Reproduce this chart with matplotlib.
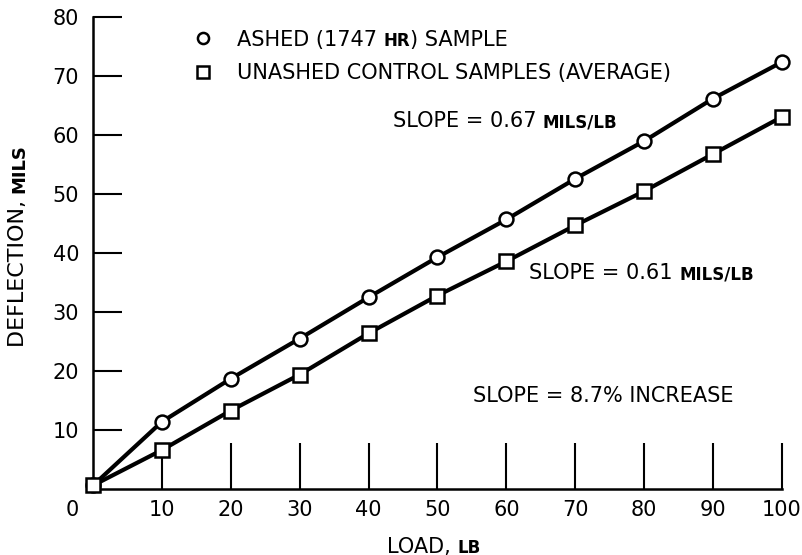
import matplotlib
matplotlib.use('Agg')
import matplotlib.pyplot as plt

# load in lb, deflection in mils
load = [0, 10, 20, 30, 40, 50, 60, 70, 80, 90, 100]
ashed = [0.6, 11.4, 18.7, 25.5, 32.5, 39.3, 45.7, 52.6, 59.0, 66.2, 72.4]
unashed = [0.6, 6.6, 13.3, 19.4, 26.4, 32.8, 38.6, 44.7, 50.5, 56.8, 63.1]

xticks = [10, 20, 30, 40, 50, 60, 70, 80, 90, 100]
yticks = [10, 20, 30, 40, 50, 60, 70, 80]

plt.rcParams['font.family'] = ['DejaVu Sans']
FS = 15
SC = 12  # "small caps" size

fig = plt.figure(figsize=(8.02, 5.55), dpi=100)
ax = fig.add_axes([0.116, 0.119, 0.859, 0.850])

ax.plot(load, ashed, color='black', lw=3, marker='o', ms=10, mfc='white',
        mec='black', mew=1.8, clip_on=False, zorder=3)
ax.plot(load, unashed, color='black', lw=3, marker='s', ms=9.5, mfc='white',
        mec='black', mew=1.8, clip_on=False, zorder=3)

ax.set_xlim(0, 100)
ax.set_ylim(0, 80)
for s in ['top', 'right']:
    ax.spines[s].set_visible(False)
for s in ['left', 'bottom']:
    ax.spines[s].set_linewidth(1.8)

ax.set_xticks(xticks)
ax.set_yticks(yticks)
ax.tick_params(axis='x', direction='in', length=33, width=1.5, pad=8, labelsize=FS)
ax.tick_params(axis='y', direction='in', length=21, width=1.5, pad=10, labelsize=FS)
ax.text(-0.03, -0.045, '0', transform=ax.transAxes, ha='center', va='center', fontsize=FS)


def mixed(x, y, parts, rotation=0):
    """parts = [(text, size, weight), ...] drawn one after another"""
    s0, fs0, w0 = parts[0]
    if rotation == 0:
        t = ax.text(x, y, s0, transform=ax.transAxes, fontsize=fs0, fontweight=w0,
                    ha='left', va='baseline')
        for s, fs, w in parts[1:]:
            t = ax.annotate(s, xy=(1, 0), xycoords=t, fontsize=fs, fontweight=w,
                            ha='left', va='bottom')
    else:
        t = ax.text(x, y, s0, transform=ax.transAxes, fontsize=fs0, fontweight=w0,
                    rotation=90, ha='right', va='bottom')
        for s, fs, w in parts[1:]:
            t = ax.annotate(s, xy=(1, 1), xycoords=t, fontsize=fs, fontweight=w,
                            rotation=90, ha='right', va='bottom')


N, B = 'normal', 'bold'

# legend, drawn by hand
ax.plot([0.160], [0.955], transform=ax.transAxes, marker='o', ms=8, mfc='white',
        mec='black', mew=1.8, clip_on=False)
ax.plot([0.160], [0.883], transform=ax.transAxes, marker='s', ms=8, mfc='white',
        mec='black', mew=1.8, clip_on=False)
mixed(0.209, 0.940, [('ASHED (1747 ', FS, N), ('HR', SC, B), (') SAMPLE', FS, N)])
mixed(0.209, 0.868, [('UNASHED CONTROL SAMPLES (AVERAGE)', FS, N)])

mixed(0.435, 0.767, [('SLOPE = 0.67 ', FS, N), ('MILS/LB', SC, B)])
mixed(0.633, 0.445, [('SLOPE = 0.61 ', FS, N), ('MILS/LB', SC, B)])
mixed(0.552, 0.184, [('SLOPE = 8.7% INCREASE', FS, N)])

mixed(0.427, -0.135, [('LOAD, ', FS, N), ('LB', SC, B)])
mixed(-0.094, 0.30, [('DEFLECTION, ', 16, N), ('MILS', 13, B)], rotation=90)

fig.savefig('out.png', dpi=100)
